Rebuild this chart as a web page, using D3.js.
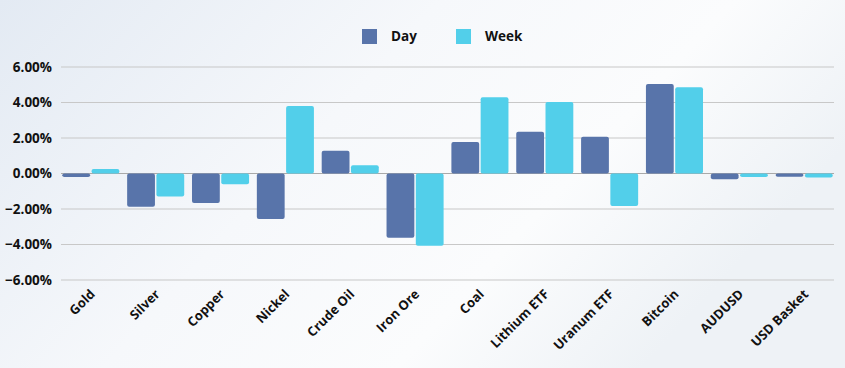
<!DOCTYPE html>
<html><head><meta charset="utf-8">
<script src="https://cdn.jsdelivr.net/npm/d3@7"></script>
<style>
html,body{margin:0;padding:0;}
body{width:845px;height:368px;overflow:hidden;}
text{font-family:"Open Sans","Noto Sans",sans-serif;font-weight:700;fill:#111;}
</style></head>
<body>
<svg id="chart" width="845" height="368"></svg>
<script>
const categories = ["Gold","Silver","Copper","Nickel","Crude Oil","Iron Ore","Coal","Lithium ETF","Uranum ETF","Bitcoin","AUDUSD","USD Basket"];
const seriesNames = ["Day","Week"];
const dayValues  = [-0.20,-1.88,-1.66,-2.56, 1.28,-3.62, 1.77, 2.35, 2.07, 5.04,-0.33,-0.18];
const weekValues = [ 0.25,-1.30,-0.60, 3.80, 0.47,-4.07, 4.29, 4.03,-1.83, 4.86,-0.20,-0.23];
const yTicks = [6,4,2,0,-2,-4,-6];
const colors = {"Day":"#5874aa","Week":"#52cfea"};

const svg = d3.select("#chart");
const W = 845, H = 368;
const defs = svg.append("defs");
const g1 = defs.append("linearGradient").attr("id","bg").attr("x1","0").attr("y1","0").attr("x2","1").attr("y2","0.4");
g1.append("stop").attr("offset","0%").attr("stop-color","#e3eaf3");
g1.append("stop").attr("offset","45%").attr("stop-color","#f6f8fb");
g1.append("stop").attr("offset","75%").attr("stop-color","#fbfcfd");
g1.append("stop").attr("offset","100%").attr("stop-color","#eef2f6");
svg.append("rect").attr("width",W).attr("height",H).attr("fill","url(#bg)");

const x0 = d3.scaleBand().domain(categories).range([61,834]).paddingInner(0.12).paddingOuter(0.02);
const x1 = d3.scaleBand().domain(seriesNames).range([0,x0.bandwidth()]).paddingInner(0.05);
const y = d3.scaleLinear().domain([-6,6]).range([280,67]);

// grid
svg.append("g").selectAll("line").data(yTicks).join("line")
  .attr("x1",61).attr("x2",834)
  .attr("y1",d=>y(d)).attr("y2",d=>y(d))
  .attr("stroke",d=>d===0?"#a9a9a9":"#c8c8c8").attr("stroke-width",1.2);

// y labels
const yAxis = d3.axisLeft(y).tickValues(yTicks).tickFormat(d=>d3.format(".2f")(d)+"%").tickSize(0).tickPadding(9);
const ya = svg.append("g").attr("transform","translate(61,0)").call(yAxis);
ya.select(".domain").remove();
ya.selectAll("text").attr("font-size",13.5).style("font-family","'Open Sans',sans-serif").style("font-weight","700").attr("fill","#111");

// bars
const rows = categories.map((c,i)=>({cat:c, vals:[{s:"Day",v:dayValues[i]},{s:"Week",v:weekValues[i]}]}));
const groups = svg.append("g").selectAll("g").data(rows).join("g")
  .attr("transform",d=>`translate(${x0(d.cat)},0)`);
groups.selectAll("rect").data(d=>d.vals).join("rect")
  .attr("x",d=>x1(d.s)).attr("width",x1.bandwidth())
  .attr("y",d=>y(Math.max(0,d.v))).attr("height",d=>Math.abs(y(d.v)-y(0)))
  .attr("rx",2).attr("fill",d=>colors[d.s]);

// x labels
svg.append("g").selectAll("text").data(categories).join("text")
  .attr("transform",d=>`translate(${x0(d)+x0.bandwidth()/2+5},${295}) rotate(-45)`)
  .attr("text-anchor","end").attr("font-size",13).text(d=>d);

// legend
const leg = svg.append("g");
const legX = [362,456];
seriesNames.forEach((s,i)=>{
  leg.append("rect").attr("x",legX[i]).attr("y",29).attr("width",15).attr("height",15).attr("fill",colors[s]);
  leg.append("text").attr("x",legX[i]+29).attr("y",41).attr("font-size",13.5).text(s);
});
</script>
</body></html>
